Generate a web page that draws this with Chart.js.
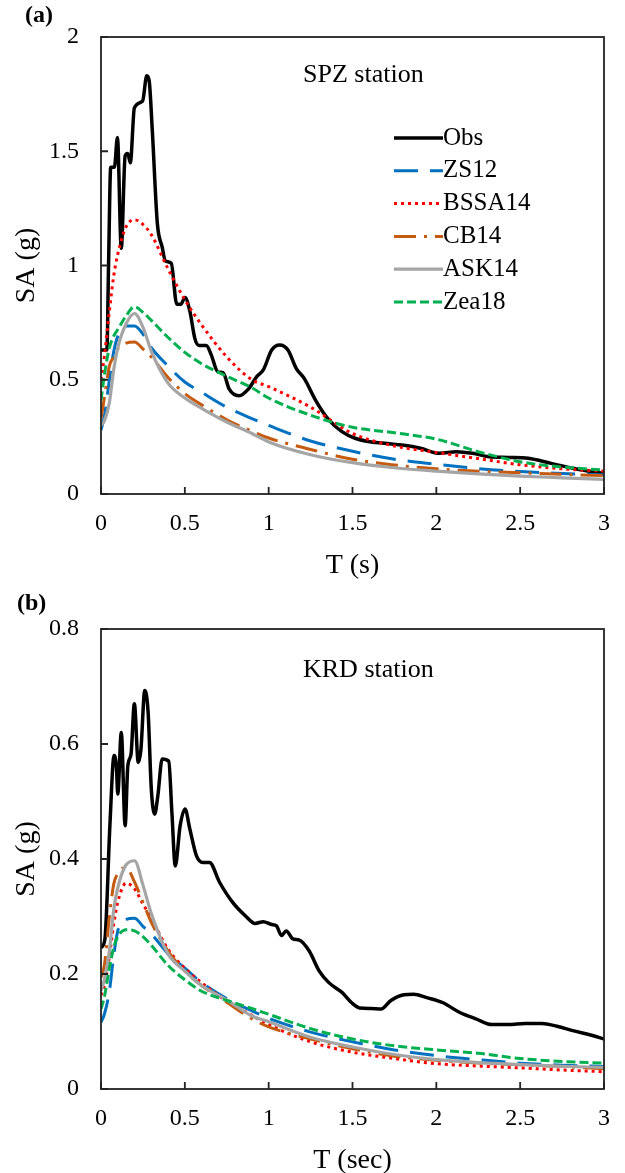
<!DOCTYPE html>
<html>
<head>
<meta charset="utf-8">
<script src="https://cdn.jsdelivr.net/npm/chart.js@4.4.1/dist/chart.umd.min.js"></script>
<style>
  html, body { margin: 0; padding: 0; background: #fff; overflow: hidden; }
  body { width: 625px; height: 1173px; position: relative; font-family: 'Liberation Serif', serif; }
  .panel { position: absolute; left: 0; }
  .tag { position: absolute; font-weight: bold; font-size: 24px; color: #000; }
</style>
</head>
<body>
<canvas id="chart-spz" class="panel" width="625" height="600" style="top:0"></canvas>
<canvas id="chart-krd" class="panel" width="625" height="630" style="top:560px"></canvas>
<div class="tag" style="left:25px; top:1px;">(a)</div>
<div class="tag" style="left:17px; top:589px;">(b)</div>
<script>
// series
const seriesNames = ['Obs', 'ZS12', 'BSSA14', 'CB14', 'ASK14', 'Zea18'];

// tick labels
const xTicks = [0, 0.5, 1, 1.5, 2, 2.5, 3];
const yTicksSPZ = [0, 0.5, 1, 1.5, 2];
const yTicksKRD = [0, 0.2, 0.4, 0.6, 0.8];

// periods (s) of the model curves
const modelPeriods = [0, 0.02, 0.05, 0.075, 0.1, 0.15, 0.2, 0.25, 0.3, 0.4, 0.5, 0.6, 0.75, 0.9, 1.0, 1.25, 1.5, 1.75, 2.0, 2.25, 2.5, 2.75, 3.0];

// (a) SPZ station
const obsPeriodsSPZ = [0, 0.035, 0.045, 0.058, 0.08, 0.098, 0.121, 0.144, 0.16, 0.175, 0.199, 0.248, 0.273, 0.287, 0.306, 0.336, 0.365, 0.384, 0.419, 0.452, 0.476, 0.501, 0.53, 0.56, 0.585, 0.628, 0.657, 0.696, 0.729, 0.764, 0.823, 0.88, 0.93, 0.968, 1.018, 1.066, 1.115, 1.164, 1.212, 1.28, 1.359, 1.437, 1.515, 1.592, 1.69, 1.807, 1.905, 2.02, 2.12, 2.216, 2.314, 2.43, 2.548, 2.684, 2.82, 3.0];
const obsSPZ = [0.63, 0.63, 1.0, 1.43, 1.43, 1.56, 1.075, 1.48, 1.49, 1.45, 1.69, 1.72, 1.83, 1.81, 1.59, 1.185, 1.08, 1.02, 1.01, 0.83, 0.83, 0.86, 0.80, 0.68, 0.65, 0.65, 0.61, 0.535, 0.53, 0.46, 0.43, 0.46, 0.515, 0.543, 0.63, 0.652, 0.63, 0.55, 0.506, 0.41, 0.324, 0.273, 0.244, 0.23, 0.222, 0.213, 0.2, 0.178, 0.185, 0.178, 0.163, 0.16, 0.156, 0.134, 0.112, 0.09];
const zs12SPZ = [0.28, 0.34, 0.50, 0.62, 0.69, 0.735, 0.735, 0.70, 0.64, 0.56, 0.49, 0.445, 0.38, 0.33, 0.30, 0.232, 0.187, 0.152, 0.13, 0.111, 0.098, 0.09, 0.084];
const bssa14SPZ = [0.50, 0.60, 0.80, 0.95, 1.05, 1.17, 1.20, 1.18, 1.135, 0.985, 0.85, 0.74, 0.60, 0.50, 0.47, 0.38, 0.265, 0.21, 0.182, 0.155, 0.128, 0.11, 0.10];
const cb14SPZ = [0.33, 0.42, 0.56, 0.60, 0.635, 0.66, 0.665, 0.635, 0.60, 0.51, 0.44, 0.39, 0.325, 0.275, 0.245, 0.195, 0.152, 0.127, 0.11, 0.10, 0.093, 0.086, 0.081];
const ask14SPZ = [0.30, 0.32, 0.40, 0.54, 0.64, 0.745, 0.79, 0.73, 0.625, 0.485, 0.42, 0.375, 0.315, 0.265, 0.228, 0.172, 0.137, 0.115, 0.10, 0.088, 0.078, 0.071, 0.064];
const zea18SPZ = [0.41, 0.52, 0.64, 0.69, 0.72, 0.78, 0.82, 0.795, 0.76, 0.685, 0.62, 0.57, 0.515, 0.465, 0.42, 0.345, 0.292, 0.268, 0.24, 0.185, 0.141, 0.118, 0.105];

// (b) KRD station
const obsPeriodsKRD = [0, 0.023, 0.053, 0.078, 0.092, 0.1, 0.121, 0.144, 0.16, 0.179, 0.199, 0.222, 0.238, 0.261, 0.281, 0.3, 0.32, 0.339, 0.365, 0.404, 0.423, 0.443, 0.472, 0.501, 0.53, 0.569, 0.608, 0.647, 0.706, 0.784, 0.862, 0.92, 0.968, 1.018, 1.046, 1.076, 1.105, 1.144, 1.183, 1.242, 1.3, 1.359, 1.437, 1.495, 1.543, 1.612, 1.67, 1.729, 1.807, 1.865, 1.943, 2.04, 2.14, 2.236, 2.33, 2.43, 2.53, 2.63, 2.72, 2.82, 2.92, 3.0];
const obsKRD = [0.246, 0.26, 0.458, 0.58, 0.56, 0.513, 0.62, 0.458, 0.562, 0.582, 0.67, 0.568, 0.59, 0.693, 0.655, 0.522, 0.478, 0.51, 0.574, 0.57, 0.48, 0.388, 0.458, 0.487, 0.452, 0.406, 0.394, 0.394, 0.36, 0.325, 0.301, 0.288, 0.291, 0.286, 0.284, 0.267, 0.275, 0.261, 0.259, 0.24, 0.206, 0.185, 0.168, 0.15, 0.141, 0.14, 0.139, 0.154, 0.164, 0.165, 0.159, 0.15, 0.133, 0.122, 0.112, 0.112, 0.114, 0.114, 0.109, 0.101, 0.094, 0.087];
const zs12KRD = [0.116, 0.13, 0.17, 0.23, 0.275, 0.295, 0.297, 0.283, 0.27, 0.235, 0.21, 0.185, 0.157, 0.136, 0.123, 0.099, 0.082, 0.068, 0.058, 0.051, 0.045, 0.0415, 0.039];
const bssa14KRD = [0.163, 0.18, 0.23, 0.285, 0.325, 0.358, 0.348, 0.322, 0.297, 0.243, 0.21, 0.185, 0.153, 0.128, 0.112, 0.082, 0.064, 0.053, 0.044, 0.040, 0.0367, 0.033, 0.030];
const cb14KRD = [0.194, 0.215, 0.30, 0.355, 0.375, 0.385, 0.36, 0.325, 0.29, 0.24, 0.205, 0.18, 0.151, 0.122, 0.108, 0.087, 0.070, 0.057, 0.050, 0.045, 0.042, 0.039, 0.035];
const ask14KRD = [0.171, 0.19, 0.24, 0.31, 0.35, 0.39, 0.397, 0.355, 0.305, 0.235, 0.205, 0.18, 0.155, 0.127, 0.117, 0.09, 0.073, 0.060, 0.051, 0.046, 0.0424, 0.0394, 0.0377];
const zea18KRD = [0.139, 0.16, 0.21, 0.245, 0.265, 0.277, 0.275, 0.265, 0.25, 0.215, 0.19, 0.17, 0.154, 0.14, 0.13, 0.105, 0.087, 0.075, 0.068, 0.062, 0.053, 0.048, 0.045];

// line styles
const seriesColors = ['#000000', '#0070C0', '#FF0000', '#C55A11', '#A5A5A5', '#00B050'];
const seriesDash = [[], [24, 12], [3, 4], [22, 8, 3, 8], [], [9, 4]];
const seriesWidths = [3.5, 3, 3, 3, 3.2, 3];

Chart.defaults.font.family = '"Liberation Serif", "Times New Roman", serif';
Chart.defaults.color = '#000';

function toPoints(xs, ys) {
    return xs.map((x, i) => ({ x: x, y: ys[i] }));
}

function buildDatasets(obsPeriods, obs, models) {
    let curves = [toPoints(obsPeriods, obs)].concat(models.map(m => toPoints(modelPeriods, m)));
    return curves.map((pts, i) => ({
        label: seriesNames[i],
        data: pts,
        borderColor: seriesColors[i],
        borderWidth: seriesWidths[i],
        borderDash: seriesDash[i],
        borderCapStyle: 'butt',
        borderJoinStyle: 'round',
        pointRadius: 0,
        fill: false,
        cubicInterpolationMode: 'monotone',
        order: seriesNames.length - i,
    }));
}

// frame, inward ticks, station label and legend
const framePlugin = {
    id: 'frame',
    afterDatasetsDraw(chart, args, opts) {
        const { ctx, chartArea: a, scales } = chart;
        ctx.save();
        ctx.setLineDash([]);
        ctx.strokeStyle = '#222';
        ctx.lineWidth = 1.8;
        ctx.strokeRect(a.left, a.top, a.right - a.left, a.bottom - a.top);
        ctx.beginPath();
        scales.x.ticks.forEach(t => {
            let px = scales.x.getPixelForValue(t.value);
            ctx.moveTo(px, a.bottom);
            ctx.lineTo(px, a.bottom - 7);
        });
        scales.y.ticks.forEach(t => {
            let py = scales.y.getPixelForValue(t.value);
            ctx.moveTo(a.left, py);
            ctx.lineTo(a.left + 7, py);
        });
        ctx.stroke();

        ctx.fillStyle = '#000';
        ctx.textBaseline = 'middle';
        ctx.font = '26px "Liberation Serif"';
        ctx.fillText(opts.station, a.left + 202, a.top + opts.stationDy);

        if (opts.legend) {
            chart.data.datasets.forEach((ds, i) => {
                let y = a.top + 101 + i * 32.8;
                let x0 = a.left + 293;
                ctx.beginPath();
                ctx.setLineDash(ds.borderDash);
                ctx.strokeStyle = ds.borderColor;
                ctx.lineWidth = ds.borderWidth;
                ctx.moveTo(x0, y);
                ctx.lineTo(x0 + 49, y);
                ctx.stroke();
                ctx.font = '25px "Liberation Serif"';
                ctx.fillText(ds.label, x0 + 49, y);
            });
        }
        ctx.restore();
    },
};

function makeChart(canvasId, datasets, yTicks, xTitle, layout, plugOpts) {
    return new Chart(document.getElementById(canvasId), {
        type: 'line',
        data: { datasets: datasets },
        plugins: [framePlugin],
        options: {
            responsive: false,
            animation: false,
            layout: { padding: { top: layout.top, left: 0, right: 12, bottom: 0 } },
            plugins: {
                legend: { display: false },
                tooltip: { enabled: false },
                frame: plugOpts,
            },
            scales: {
                x: {
                    type: 'linear',
                    min: 0,
                    max: 3,
                    afterBuildTicks: s => { s.ticks = xTicks.map(v => ({ value: v })); },
                    afterFit: s => { s.height = layout.xHeight; },
                    grid: { display: false, drawTicks: false },
                    border: { display: false },
                    ticks: { padding: 15, autoSkip: false, maxRotation: 0, font: { size: 24 }, color: '#000', callback: v => String(v) },
                    title: { display: true, text: xTitle, font: { size: 28 }, color: '#000', padding: { top: 0, bottom: layout.titlePad } },
                },
                y: {
                    min: yTicks[0],
                    max: yTicks[yTicks.length - 1],
                    afterBuildTicks: s => { s.ticks = yTicks.map(v => ({ value: v })); },
                    afterFit: s => { s.width = 101; },
                    grid: { display: false, drawTicks: false },
                    border: { display: false },
                    ticks: { padding: 22, font: { size: 24 }, color: '#000', callback: v => String(v) },
                    title: { display: true, text: 'SA (g)', font: { size: 28 }, color: '#000', padding: { top: 10, bottom: 0 } },
                },
            },
        },
    });
}

makeChart('chart-spz',
    buildDatasets(obsPeriodsSPZ, obsSPZ, [zs12SPZ, bssa14SPZ, cb14SPZ, ask14SPZ, zea18SPZ]),
    yTicksSPZ, 'T (s)',
    { top: 37, xHeight: 106, titlePad: 18 },
    { station: 'SPZ station', stationDy: 38, legend: true });

makeChart('chart-krd',
    buildDatasets(obsPeriodsKRD, obsKRD, [zs12KRD, bssa14KRD, cb14KRD, ask14KRD, zea18KRD]),
    yTicksKRD, 'T (sec)',
    { top: 69, xHeight: 101, titlePad: 13 },
    { station: 'KRD station', stationDy: 41, legend: false });
</script>
</body>
</html>
